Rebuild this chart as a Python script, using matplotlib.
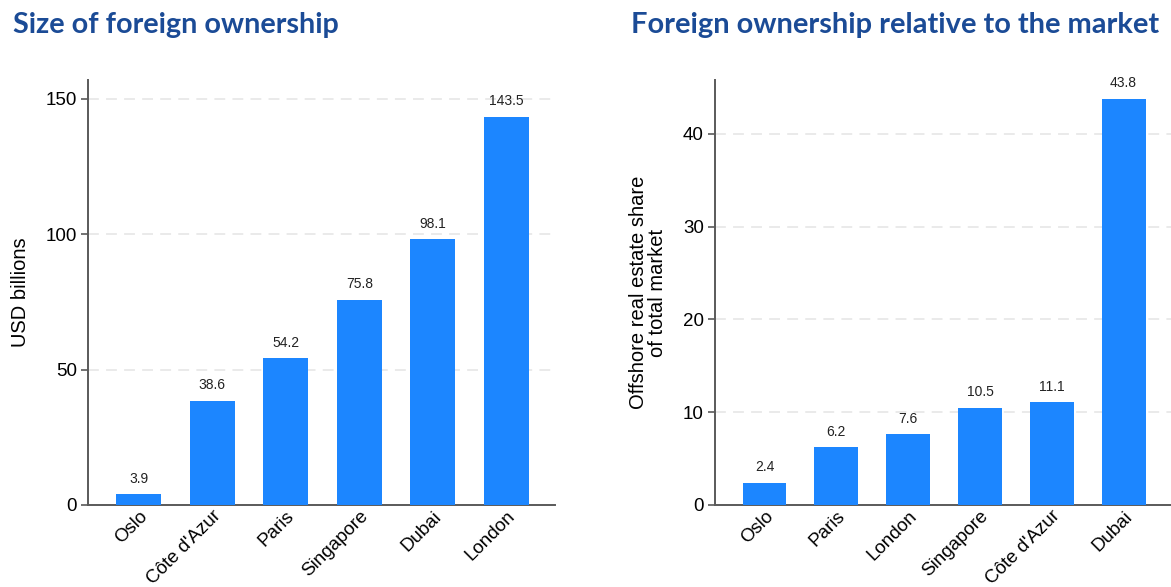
import matplotlib
matplotlib.use("Agg")
import matplotlib.pyplot as plt

# Data
size_cities = ["Oslo", "Côte d'Azur", "Paris", "Singapore", "Dubai", "London"]
size_values = [3.9, 38.6, 54.2, 75.8, 98.1, 143.5]

share_cities = ["Oslo", "Paris", "London", "Singapore", "Côte d'Azur", "Dubai"]
share_values = [2.4, 6.2, 7.6, 10.5, 11.1, 43.8]

size_ticks = [0, 50, 100, 150]
share_ticks = [0, 10, 20, 30, 40]

BAR = "#1c86ff"
TITLE = "#1b4b96"
SPINE = "#5a5a5a"

plt.rcParams["font.family"] = ["Liberation Sans", "DejaVu Sans"]

fig = plt.figure(figsize=(11.71, 5.87), dpi=100)
ax1 = fig.add_axes([0.0751, 0.1397, 0.3988, 0.724])
ax2 = fig.add_axes([0.6106, 0.1397, 0.3894, 0.724])


def draw(ax, cats, vals, ticks, ylim, ylabel, fmt="{:.1f}"):
    x = list(range(len(cats)))
    bars = ax.bar(x, vals, width=0.61, color=BAR, zorder=3)
    for b, v in zip(bars, vals):
        ax.annotate(fmt.format(v), (b.get_x() + b.get_width() / 2, v),
                    xytext=(0, 6), textcoords="offset points",
                    ha="center", va="bottom", fontsize=10, color="#222222")
    ax.set_xlim(-0.69, len(cats) - 1 + 0.66)
    ax.set_ylim(*ylim)
    ax.set_yticks(ticks)
    ax.set_xticks(x)
    ax.set_xticklabels(cats, rotation=45, ha="right", rotation_mode="anchor",
                       fontsize=13.5)
    ax.tick_params(axis="x", length=0, pad=2)
    ax.tick_params(axis="y", length=5, width=1.2, color=SPINE, labelsize=13.5,
                   pad=3)
    for t in ticks[1:]:
        ax.axhline(t, color="#e8e8e8", lw=1.3, ls=(0, (6, 4)), zorder=1)
    for s in ["top", "right"]:
        ax.spines[s].set_visible(False)
    for s in ["left", "bottom"]:
        ax.spines[s].set_color(SPINE)
        ax.spines[s].set_linewidth(1.4)
    ax.set_ylabel(ylabel, fontsize=14.5, linespacing=1.0)


draw(ax1, size_cities, size_values, size_ticks, (0, 157), "USD billions")
draw(ax2, share_cities, share_values, share_ticks, (0, 45.8),
     "Offshore real estate share\nof total market")
ax1.yaxis.set_label_coords(-0.125, 0.5)
ax2.yaxis.set_label_coords(-0.105, 0.5)

fig.text(0.011, 0.944, "Size of foreign ownership", family=["Lato", "DejaVu Sans"],
         fontweight="bold", fontsize=20.7, color=TITLE, va="baseline", ha="left")
fig.text(0.539, 0.944, "Foreign ownership relative to the market",
         family=["Lato", "DejaVu Sans"], fontweight="bold", fontsize=20.9,
         color=TITLE, va="baseline", ha="left")

fig.savefig("out.png", dpi=100)
